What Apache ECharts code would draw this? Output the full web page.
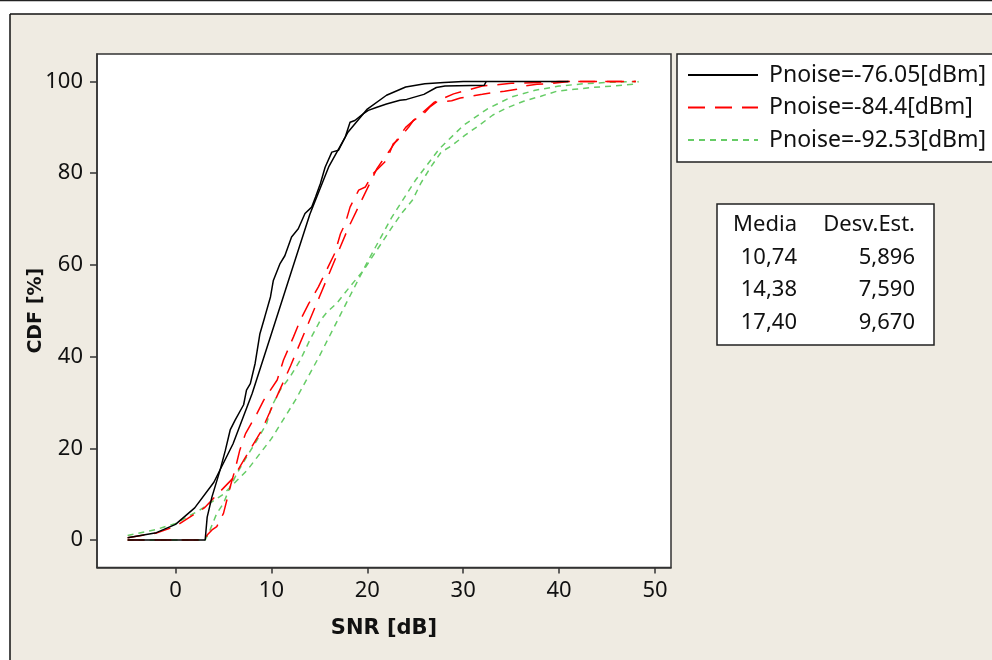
<!DOCTYPE html>
<html>
<head>
<meta charset="utf-8">
<script src="https://cdn.jsdelivr.net/npm/echarts@6/dist/echarts.min.js"></script>
<style>
html, body { margin: 0; padding: 0; background: #fff; }
#chart { width: 992px; height: 660px; }
</style>
</head>
<body>
<div id="chart"></div>
<script>
// tick values
var xTicks = [0, 10, 20, 30, 40, 50];
var yTicks = [0, 20, 40, 60, 80, 100];

var seriesNames = ["Pnoise=-76.05[dBm]", "Pnoise=-84.4[dBm]", "Pnoise=-92.53[dBm]"];

// smooth (fitted) curves, [SNR, CDF%]
var blackFit = [[-5,0.5],[-2,1.6],[0,3.4],[2,7],[4,12.6],[6,21],[8,32],[10,45],[12,58],[14,71],[16,81.5],[18,89],[20,94],[22,97],[24,98.8],[26,99.5],[28,99.8],[30,100],[41,100]];
var redFit = [[-5,0.5],[-2,1.5],[0,3],[3,7],[6,13.5],[9,24],[12,38],[15,53],[18,68],[21,81],[24,90],[27,95.5],[29,97.3],[32,99],[35,99.6],[38,99.8],[40,100],[48,100]];
var greenFit = [[-5,1],[-2,2.3],[0,3.6],[2.5,6.5],[5,10],[7.5,15.3],[10,22.1],[12.5,30.5],[15,40.1],[17.5,50.4],[20,60.6],[22.5,70.2],[25,78.4],[27.5,85.3],[30,90.4],[32.5,94],[35,96.6],[37.5,98.1],[40,99],[42.5,99.5],[45,99.8],[48,100]];

// empirical curves, [SNR, CDF%]
var blackEmp = [[-5,0],[3.09,0],[3.3,5],[3.8,9.4],[4.65,15.3],[5.2,19.6],[5.7,24],[6.2,26.1],[7.1,29.5],[7.4,32.7],[7.8,34.1],[8.3,38.5],[8.8,45],[9.3,48.6],[9.9,53],[10.2,56.6],[10.9,60.3],[11.4,62],[12.1,66.1],[12.8,67.9],[13.5,71.2],[14.2,72.6],[14.6,74.8],[15.1,77.7],[15.6,81.3],[16.3,84.6],[17,85],[17.7,87.9],[18.2,91.1],[18.7,91.5],[19.6,93],[20.1,93.7],[21,94.4],[22,95.1],[23.4,95.9],[24.1,96.1],[25.9,97.2],[27.2,98.7],[28.1,99],[32.2,99.2],[32.4,100]];
var redEmp = [[-5,0],[3.09,0],[3.3,1.1],[3.8,2.2],[4.3,2.9],[4.65,4.4],[5,5.8],[5.7,11.6],[6.2,15.3],[6.7,19.6],[7.3,23.2],[8.5,27.6],[9.2,30.5],[10.6,34.9],[11.25,39.2],[12.3,44.3],[13,47.9],[13.9,51.6],[14.9,55.2],[15.9,59.5],[16.6,62.5],[17.2,66.8],[17.7,69],[18.2,72.6],[19.1,76.3],[19.8,77],[20.6,79.9],[22,82.8],[22.7,86.4],[23.1,87.1],[24.3,90],[24.8,91.5],[25.7,92.6],[26.5,94.4],[27.2,95.5],[28.8,95.8],[29.7,96.4],[32,97.2],[33.1,97.6],[34.3,97.9],[35.6,98.3],[36.3,99],[37.7,99.4],[39.4,99.6],[41,100],[48,100]];
var greenEmp = [[-5,0],[3.09,0],[3.6,2.2],[4.3,5.8],[5,8],[5.7,11.6],[6.4,14.5],[7.4,18.1],[8.5,21.8],[9.5,25.4],[10,29],[10.9,32.7],[11.95,35.6],[13,39.2],[14,43.6],[15.1,47.9],[15.8,49.7],[16.8,51.6],[17.9,54.5],[18.6,56.3],[19.6,58.8],[20.5,61.7],[21.5,64.8],[22.6,68.3],[23.6,71.3],[24.7,74.1],[25.6,77.9],[26.7,81.6],[27.7,84.6],[28.8,86],[30.2,88.3],[31.7,90.5],[33.1,92.7],[34.5,94.2],[36.3,95.7],[38.1,96.8],[39.8,97.9],[41.6,98.3],[43.4,98.7],[45.5,99],[47.7,99.4],[48.3,100]];

// stats table
var statHead = ["Media", "Desv.Est."];
var statMedia = ["10,74", "14,38", "17,40"];
var statDesv = ["5,896", "7,590", "9,670"];

var FONT = "Noto Sans";
var TXT = "#111";

var colors = ["#000000", "#ff0000", "#66cc66"];
var dashes = ["solid", [17, 10], [6, 5]];

function mkSeries(idx, data) {
	return {
		name: seriesNames[idx],
		type: "line",
		symbol: "none",
		data: data,
		z: 10 - idx,
		itemStyle: { color: colors[idx] },
		lineStyle: { color: colors[idx], width: 1.5, type: dashes[idx] }
	};
}

var graphics = [
	// white outside strip + outer frame
	{ type: "rect", shape: { x: 0, y: 0, width: 992, height: 14 }, style: { fill: "#fff" }, silent: true },
	{ type: "rect", shape: { x: 0, y: 0, width: 10, height: 660 }, style: { fill: "#fff" }, silent: true },
	{ type: "line", shape: { x1: 0, y1: 0.5, x2: 992, y2: 0.5 }, style: { stroke: "#222", lineWidth: 1.5 }, silent: true },
	{ type: "line", shape: { x1: 10, y1: 14, x2: 992, y2: 14 }, style: { stroke: "#111", lineWidth: 1.5 }, silent: true },
	{ type: "line", shape: { x1: 10, y1: 14, x2: 10, y2: 660 }, style: { stroke: "#111", lineWidth: 1.5 }, silent: true },
	// stats box
	{ type: "rect", shape: { x: 717, y: 204, width: 217, height: 141 }, style: { fill: "#fff", stroke: "#222", lineWidth: 1.5 }, silent: true }
];

var rowsY = [225, 258, 290, 323];
var colX = [797, 915];
var statFont = "22px '" + FONT + "'";
graphics.push({ type: "text", x: colX[0], y: rowsY[0], style: { text: statHead[0], font: statFont, fill: TXT, align: "right", verticalAlign: "middle" } });
graphics.push({ type: "text", x: colX[1], y: rowsY[0], style: { text: statHead[1], font: statFont, fill: TXT, align: "right", verticalAlign: "middle" } });
for (var i = 0; i < statMedia.length; i++) {
	graphics.push({ type: "text", x: colX[0], y: rowsY[i + 1], style: { text: statMedia[i], font: statFont, fill: TXT, align: "right", verticalAlign: "middle" } });
	graphics.push({ type: "text", x: colX[1], y: rowsY[i + 1], style: { text: statDesv[i], font: statFont, fill: TXT, align: "right", verticalAlign: "middle" } });
}

var myChart = echarts.init(document.getElementById("chart"));
var option = {
	backgroundColor: "#efebe2",
	animation: false,
	textStyle: { fontFamily: FONT },
	grid: {
		left: 97, top: 54, width: 574, height: 513.5,
		show: true, backgroundColor: "#fff", borderColor: "#333", borderWidth: 1.5
	},
	legend: {
		orient: "vertical",
		left: 677, top: 54,
		data: seriesNames,
		itemWidth: 70, itemHeight: 14, itemGap: 8.5,
		itemStyle: { opacity: 0 },
		padding: [9, 40, 10, 10],
		backgroundColor: "#fff", borderColor: "#222", borderWidth: 1.5, borderRadius: 0,
		textStyle: { fontFamily: FONT, fontSize: 23, color: TXT, lineHeight: 24, padding: [0, 0, 0, 6] }
	},
	xAxis: {
		type: "value",
		min: -8.19, max: 51.67,
		name: "SNR [dB]", nameLocation: "middle", nameGap: 51, nameMoveOverlap: false,
		nameTextStyle: { fontFamily: "DejaVu Sans", fontWeight: "bold", fontSize: 21, color: TXT },
		axisLine: { onZero: false, lineStyle: { color: "#333", width: 1.5 } },
		axisTick: { customValues: xTicks, length: 6, lineStyle: { color: "#333", width: 1.5 } },
		axisLabel: { customValues: xTicks, margin: 12, fontSize: 22, color: TXT, fontFamily: FONT },
		splitLine: { show: false }
	},
	yAxis: {
		type: "value",
		min: -6.0, max: 106.0,
		name: "CDF [%]", nameLocation: "middle", nameGap: 51, nameMoveOverlap: false,
		nameTextStyle: { fontFamily: "DejaVu Sans", fontWeight: "bold", fontSize: 19, color: TXT },
		axisLine: { onZero: false, lineStyle: { color: "#333", width: 1.5 } },
		axisTick: { customValues: yTicks, length: 7, lineStyle: { color: "#333", width: 1.5 } },
		axisLabel: { customValues: yTicks, margin: 14, fontSize: 22, color: TXT, fontFamily: FONT },
		splitLine: { show: false }
	},
	graphic: graphics,
	series: [
		mkSeries(0, blackFit), mkSeries(0, blackEmp),
		mkSeries(1, redFit), mkSeries(1, redEmp),
		mkSeries(2, greenFit), mkSeries(2, greenEmp)
	]
};
myChart.setOption(option);
</script>
</body>
</html>
